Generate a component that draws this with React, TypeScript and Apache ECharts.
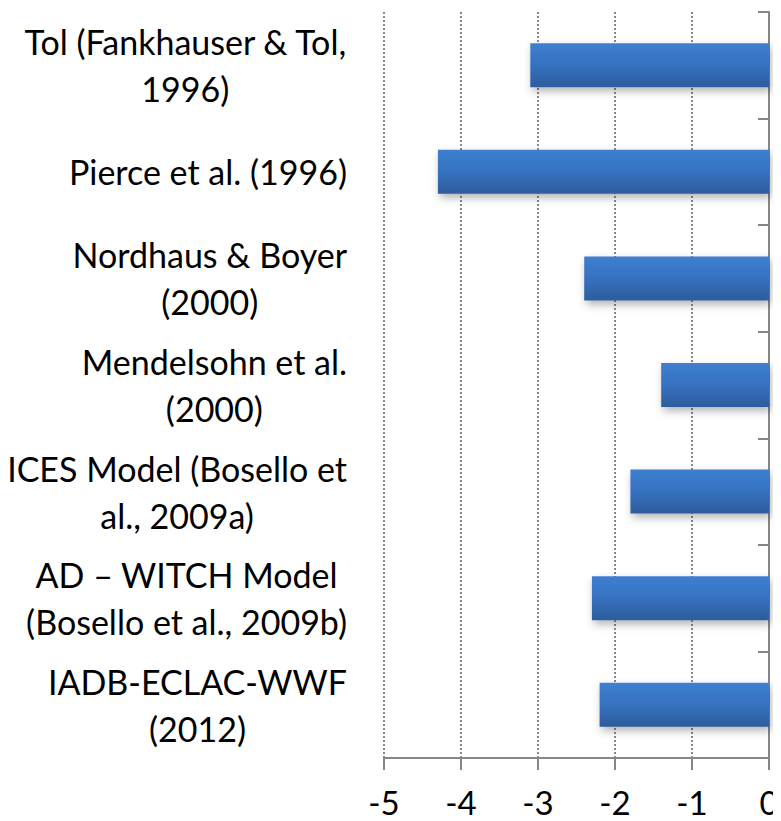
import React, { useEffect, useRef } from "react";
import * as echarts from "echarts";

const categories = [
  "Tol (Fankhauser & Tol,\n1996)",
  "Pierce et al. (1996)",
  "Nordhaus & Boyer\n(2000)",
  "Mendelsohn et al.\n(2000)",
  "ICES Model (Bosello et\nal., 2009a)",
  "AD – WITCH Model\n(Bosello et al., 2009b)",
  "IADB-ECLAC-WWF\n(2012)",
];
const values = [-3.1, -4.3, -2.4, -1.4, -1.8, -2.3, -2.2];
const xMin = -5;
const xMax = 0;
const xInterval = 1;

export default function App() {
  const ref = useRef<HTMLDivElement>(null);
  useEffect(() => {
    if (!ref.current) return;
    const chart = echarts.init(ref.current, null, { renderer: "svg" });
    const font = "Lato, 'Open Sans', sans-serif";
    const axisColor = "#878787";
    chart.setOption({
      animation: false,
      grid: {
        left: 384,
        right: 12,
        top: 12,
        bottom: 63,
        containLabel: false,
        outerBoundsMode: "none",
      },
      xAxis: {
        type: "value",
        min: xMin,
        max: xMax,
        interval: xInterval,
        axisLine: { show: true, lineStyle: { color: axisColor, width: 2 } },
        axisTick: { show: true, length: 12, lineStyle: { color: axisColor, width: 2 } },
        axisLabel: {
          color: "#000",
          fontFamily: font,
          fontSize: 33,
          lineHeight: 28,
          margin: 30,
        },
        splitLine: {
          show: true,
          lineStyle: { color: "#888888", type: [2, 2], width: 2 },
        },
      },
      yAxis: [
        {
          type: "category",
          data: categories,
          inverse: true,
          position: "left",
          axisLine: { show: false },
          axisTick: { show: false },
          axisLabel: {
            interval: 0,
            margin: 37,
            color: "#000",
            fontFamily: font,
            fontSize: 34,
            lineHeight: 47,
            align: "right",
            formatter: (v: string) =>
              v
                .split("\n")
                .map((l) => `{c|${l}}`)
                .join("\n"),
            rich: {
              c: {
                align: "center",
                color: "#000",
                fontFamily: font,
                fontSize: 34,
                lineHeight: 47,
              },
            },
          },
          splitLine: { show: false },
        },
        {
          type: "category",
          data: categories,
          inverse: true,
          position: "right",
          axisLine: { show: true, lineStyle: { color: axisColor, width: 2 } },
          axisTick: {
            show: true,
            inside: true,
            length: 11,
            interval: 0,
            lineStyle: { color: axisColor, width: 2 },
          },
          axisLabel: { show: false },
          splitLine: { show: false },
        },
      ],
      series: [
        {
          type: "bar",
          yAxisIndex: 0,
          data: values,
          barWidth: 44,
          itemStyle: {
            color: new echarts.graphic.LinearGradient(0, 0, 0, 1, [
              { offset: 0, color: "#3d7fd0" },
              { offset: 0.5, color: "#3671bf" },
              { offset: 1, color: "#2d5c9b" },
            ]),
            shadowColor: "rgba(0,0,0,0.3)",
            shadowBlur: 8,
            shadowOffsetX: 2,
            shadowOffsetY: 4,
          },
        },
      ],
    });
    return () => chart.dispose();
  }, []);
  return <div ref={ref} style={{ width: 781, height: 821, marginLeft: -8, marginTop: -8 }} />;
}
